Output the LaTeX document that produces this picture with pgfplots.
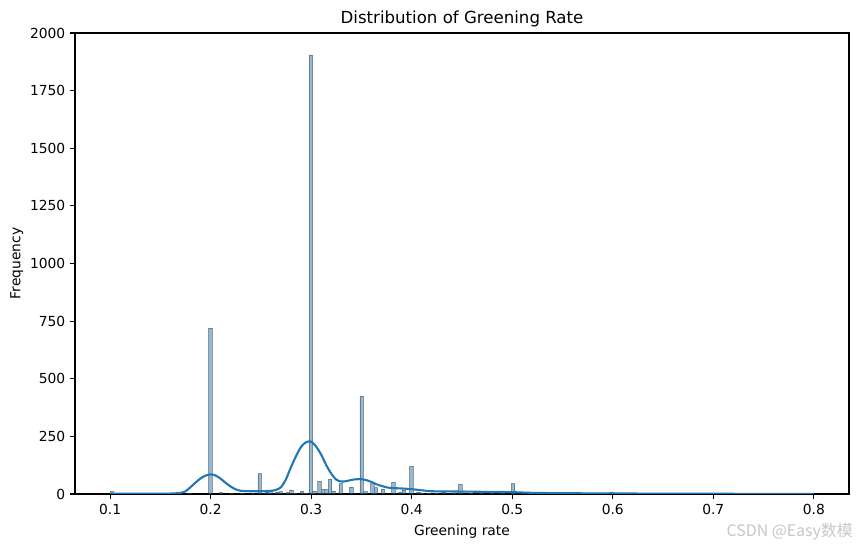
\documentclass[border=0pt]{standalone}
\usepackage{fontspec}
\setmainfont{DejaVu Sans}
\newfontfamily\cjk{Noto Sans CJK SC}
\usepackage{pgfplots}
\pgfplotsset{compat=1.18}
\definecolor{mplblue}{HTML}{1F77B4}
\begin{document}
\begin{tikzpicture}
\useasboundingbox (0,0) rectangle (618.48bp,393.84bp);
\begin{axis}[
  at={(54bp,38.16bp)}, anchor=south west,
  scale only axis, width=557.28bp, height=331.92bp,
  xmin=0.065, xmax=0.835, ymin=0, ymax=2000,
  xtick={0.1,0.2,0.3,0.4,0.5,0.6,0.7,0.8},
  xticklabels={0.1,0.2,0.3,0.4,0.5,0.6,0.7,0.8},
  ytick={0,250,500,750,1000,1250,1500,1750,2000},
  scaled y ticks=false,
  /pgf/number format/1000 sep={},
  /pgf/number format/assume math mode=true,
  tick align=outside, tick pos=left,
  major tick length=3.5bp,
  every tick/.style={black, line width=0.8bp},
  axis line style={line width=0.8bp},
  tick label style={font=\fontsize{10}{12}\selectfont},
  xlabel={Greening rate}, ylabel={Frequency},
  label style={font=\fontsize{10}{12}\selectfont},
  title={Distribution of Greening Rate},
  title style={font=\fontsize{12}{14}\selectfont, yshift=-5bp},
  xlabel style={yshift=-1bp},
  ylabel style={yshift=-2bp},
]
\addplot[ybar, bar width=0.0035, bar shift=0, fill=mplblue, fill opacity=0.5,
  draw=black!75, draw opacity=0.5, line width=0.5bp] coordinates {
(0.10175,10) (0.10525,2) (0.15075,5) (0.17875,3) (0.19975,720)
(0.21025,6) (0.22075,2) (0.23125,3) (0.24175,3) (0.24875,88)
(0.25575,8) (0.25925,10) (0.26625,8) (0.26975,10) (0.27675,6)
(0.28025,18) (0.28375,5) (0.29075,12) (0.29425,5) (0.29975,1905)
(0.30325,12) (0.30825,55) (0.31175,20) (0.31525,20) (0.31875,65)
(0.32225,13) (0.32925,45) (0.33975,30) (0.35025,425) (0.35375,10)
(0.36075,45) (0.36425,28) (0.37125,22) (0.38175,50) (0.38875,8)
(0.39225,18) (0.39975,120) (0.40675,8) (0.41025,5) (0.41725,5)
(0.42425,5) (0.43125,8) (0.44175,5) (0.44825,42) (0.45875,4)
(0.46925,4) (0.47975,10) (0.49025,3) (0.50075,45) (0.52175,2)
(0.54975,6) (0.59875,8) (0.61975,2) (0.65125,2) (0.66875,2)
(0.70025,3) (0.79825,2)
};
\addplot[mplblue, line width=1.5bp, smooth, no marks] coordinates {
(0.10,2) (0.12,1.5) (0.14,1.5) (0.16,2) (0.165,3) (0.17,5) (0.175,12)
(0.18,30) (0.185,50) (0.19,68) (0.195,80) (0.20,85) (0.205,80)
(0.21,66) (0.215,48) (0.22,32) (0.225,20) (0.23,14) (0.24,12)
(0.25,12) (0.26,14) (0.265,18) (0.27,30) (0.275,65) (0.28,118)
(0.285,165) (0.29,205) (0.295,225) (0.30,227) (0.305,205) (0.31,170)
(0.315,125) (0.32,88) (0.325,62) (0.33,54) (0.335,56) (0.34,61)
(0.345,64) (0.35,64) (0.355,60) (0.36,52) (0.365,42) (0.37,35)
(0.375,29) (0.38,26) (0.39,24) (0.40,21) (0.41,16) (0.42,12)
(0.44,11) (0.46,10) (0.48,9) (0.50,8) (0.52,5) (0.55,3.5) (0.60,2.5)
(0.65,1.5) (0.70,1) (0.75,0.8) (0.80,0.5)
};
\end{axis}
\node[anchor=east, text=black!22, font=\cjk\fontsize{11.5}{13}\selectfont] at (617.5bp,11bp) {CSDN @Easy数模};
\end{tikzpicture}
\end{document}
